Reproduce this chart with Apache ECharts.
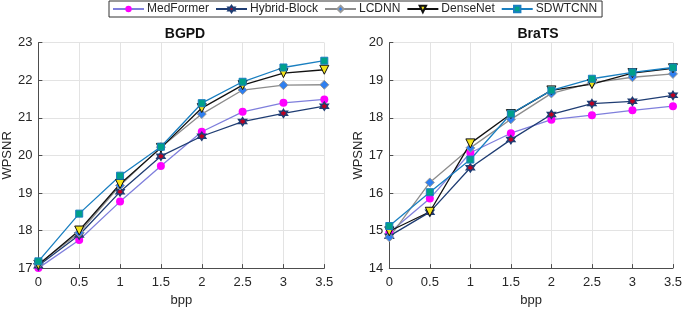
<!DOCTYPE html>
<html>
<head>
<meta charset="utf-8">
<script src="https://cdn.jsdelivr.net/npm/echarts@6/dist/echarts.min.js"></script>
<style>
  html, body { margin: 0; padding: 0; background: #fff; }
  #main { width: 685px; height: 312px; }
</style>
</head>
<body>
<div id="main"></div>
<script>
// x values (bpp)
var bpp = [0, 0.5, 1, 1.5, 2, 2.5, 3, 3.5];
var seriesNames = ['MedFormer', 'Hybrid-Block', 'LCDNN', 'DenseNet', 'SDWTCNN'];

// BGPD dataset
var bgpdMedFormer = [17.0, 17.75, 18.77, 19.72, 20.63, 21.16, 21.40, 21.49];
var bgpdHybrid    = [17.06, 17.88, 19.03, 19.98, 20.51, 20.90, 21.12, 21.31];
var bgpdLCDNN     = [17.10, 17.94, 19.20, 20.22, 21.10, 21.74, 21.87, 21.88];
var bgpdDenseNet  = [17.09, 18.00, 19.24, 20.20, 21.26, 21.87, 22.19, 22.28];
var bgpdSDWTCNN   = [17.18, 18.45, 19.46, 20.23, 21.39, 21.96, 22.34, 22.52];

// BraTS dataset
var bratsMedFormer = [14.94, 15.85, 17.07, 17.59, 17.95, 18.07, 18.20, 18.31];
var bratsHybrid    = [14.85, 15.49, 16.67, 17.42, 18.09, 18.38, 18.44, 18.60];
var bratsLCDNN     = [14.82, 16.28, 17.20, 17.96, 18.65, 18.93, 19.08, 19.17];
var bratsDenseNet  = [14.98, 15.50, 17.32, 18.10, 18.73, 18.90, 19.19, 19.32];
var bratsSDWTCNN   = [15.12, 16.02, 16.89, 18.11, 18.73, 19.04, 19.21, 19.34];

// six pointed star (matlab 'hexagram' look)
var hexPath = 'path://M0,-10L2.89,-5L8.66,-5L5.77,0L8.66,5L2.89,5L0,10L-2.89,5L-8.66,5L-5.77,0L-8.66,-5L-2.89,-5Z';

var styles = {
  'MedFormer':    {line: '#7f7fdc', symbol: 'circle', size: 8, fill: '#ff00ff', border: '#ff00ff', bw: 0},
  'Hybrid-Block': {line: '#1f3d73', symbol: hexPath, size: 8, fill: '#c00020', border: '#1f3d73', bw: 1.5},
  'LCDNN':        {line: '#8c8c8c', symbol: 'diamond', size: 9, fill: '#2f7fef', border: '#999999', bw: 1},
  'DenseNet':     {line: '#111111', symbol: 'triangle', size: 9, fill: '#f2e21a', border: '#111111', bw: 1, rotate: 180},
  'SDWTCNN':      {line: '#1a7fc0', symbol: 'rect', size: 7, fill: '#00a08a', border: '#1a7fc0', bw: 1}
};

function pairs(ys) {
  return bpp.map(function (x, i) { return [x, ys[i]]; });
}

function makeSeries(name, ys, idx) {
  var s = styles[name];
  return {
    name: name,
    type: 'line',
    xAxisIndex: idx,
    yAxisIndex: idx,
    data: pairs(ys),
    symbol: s.symbol,
    symbolSize: s.size,
    symbolRotate: s.rotate || 0,
    lineStyle: {color: s.line, width: 1.3},
    itemStyle: {color: s.fill, borderColor: s.border, borderWidth: s.bw},
    emphasis: {disabled: true},
    animation: false
  };
}

var axisText = {color: '#262626', fontSize: 13, fontFamily: 'Liberation Sans, Arial'};
var axisLine = {show: true, lineStyle: {color: '#4d4d4d', width: 1}};
var gridLine = {show: true, lineStyle: {color: '#e3e3e3', width: 1}};

function xAxis(idx) {
  return {
    type: 'value', gridIndex: idx, min: 0, max: 3.5, interval: 0.5,
    name: 'bpp', nameLocation: 'middle', nameGap: 23,
    nameTextStyle: axisText,
    axisLine: axisLine, axisTick: {show: true, inside: true, length: 4, lineStyle: {color: '#4d4d4d'}},
    axisLabel: Object.assign({margin: 8}, axisText),
    splitLine: gridLine
  };
}
function yAxis(idx, min, max) {
  return {
    type: 'value', gridIndex: idx, min: min, max: max, interval: 1,
    name: 'WPSNR', nameLocation: 'middle', nameGap: 23,
    nameTextStyle: axisText,
    axisLine: axisLine, axisTick: {show: true, inside: true, length: 4, lineStyle: {color: '#4d4d4d'}},
    axisLabel: Object.assign({margin: 6}, axisText),
    splitLine: gridLine
  };
}

var chart = echarts.init(document.getElementById('main'), null, {renderer: 'canvas'});
var option = {
  backgroundColor: '#ffffff',
  animation: false,
  title: [
    {text: 'BGPD', left: 180, top: 22, textAlign: 'center',
     textStyle: {fontSize: 14, fontWeight: 'bold', color: '#111', fontFamily: 'Liberation Sans, Arial'}},
    {text: 'BraTS', left: 533, top: 22, textAlign: 'center',
     textStyle: {fontSize: 14, fontWeight: 'bold', color: '#111', fontFamily: 'Liberation Sans, Arial'}}
  ],
  legend: {
    data: seriesNames,
    left: 109, top: 1,
    padding: [2, 5, 2, 3],
    itemGap: 6,
    itemWidth: 31, itemHeight: 8,
    borderColor: '#333', borderWidth: 1,
    textStyle: {fontSize: 12, color: '#262626', fontFamily: 'Liberation Sans, Arial', padding: [0, 0, 0, -2]}
  },
  grid: [
    {left: 36.7, right: 360.7, top: 42.7, bottom: 41},
    {left: 389.3, right: 8.3, top: 42.7, bottom: 41}
  ],
  xAxis: [xAxis(0), xAxis(1)],
  yAxis: [yAxis(0, 17, 23), yAxis(1, 14, 20)],
  series: [
    makeSeries('MedFormer', bgpdMedFormer, 0),
    makeSeries('Hybrid-Block', bgpdHybrid, 0),
    makeSeries('LCDNN', bgpdLCDNN, 0),
    makeSeries('DenseNet', bgpdDenseNet, 0),
    makeSeries('SDWTCNN', bgpdSDWTCNN, 0),
    makeSeries('MedFormer', bratsMedFormer, 1),
    makeSeries('Hybrid-Block', bratsHybrid, 1),
    makeSeries('LCDNN', bratsLCDNN, 1),
    makeSeries('DenseNet', bratsDenseNet, 1),
    makeSeries('SDWTCNN', bratsSDWTCNN, 1)
  ]
};
chart.setOption(option);
</script>
</body>
</html>
